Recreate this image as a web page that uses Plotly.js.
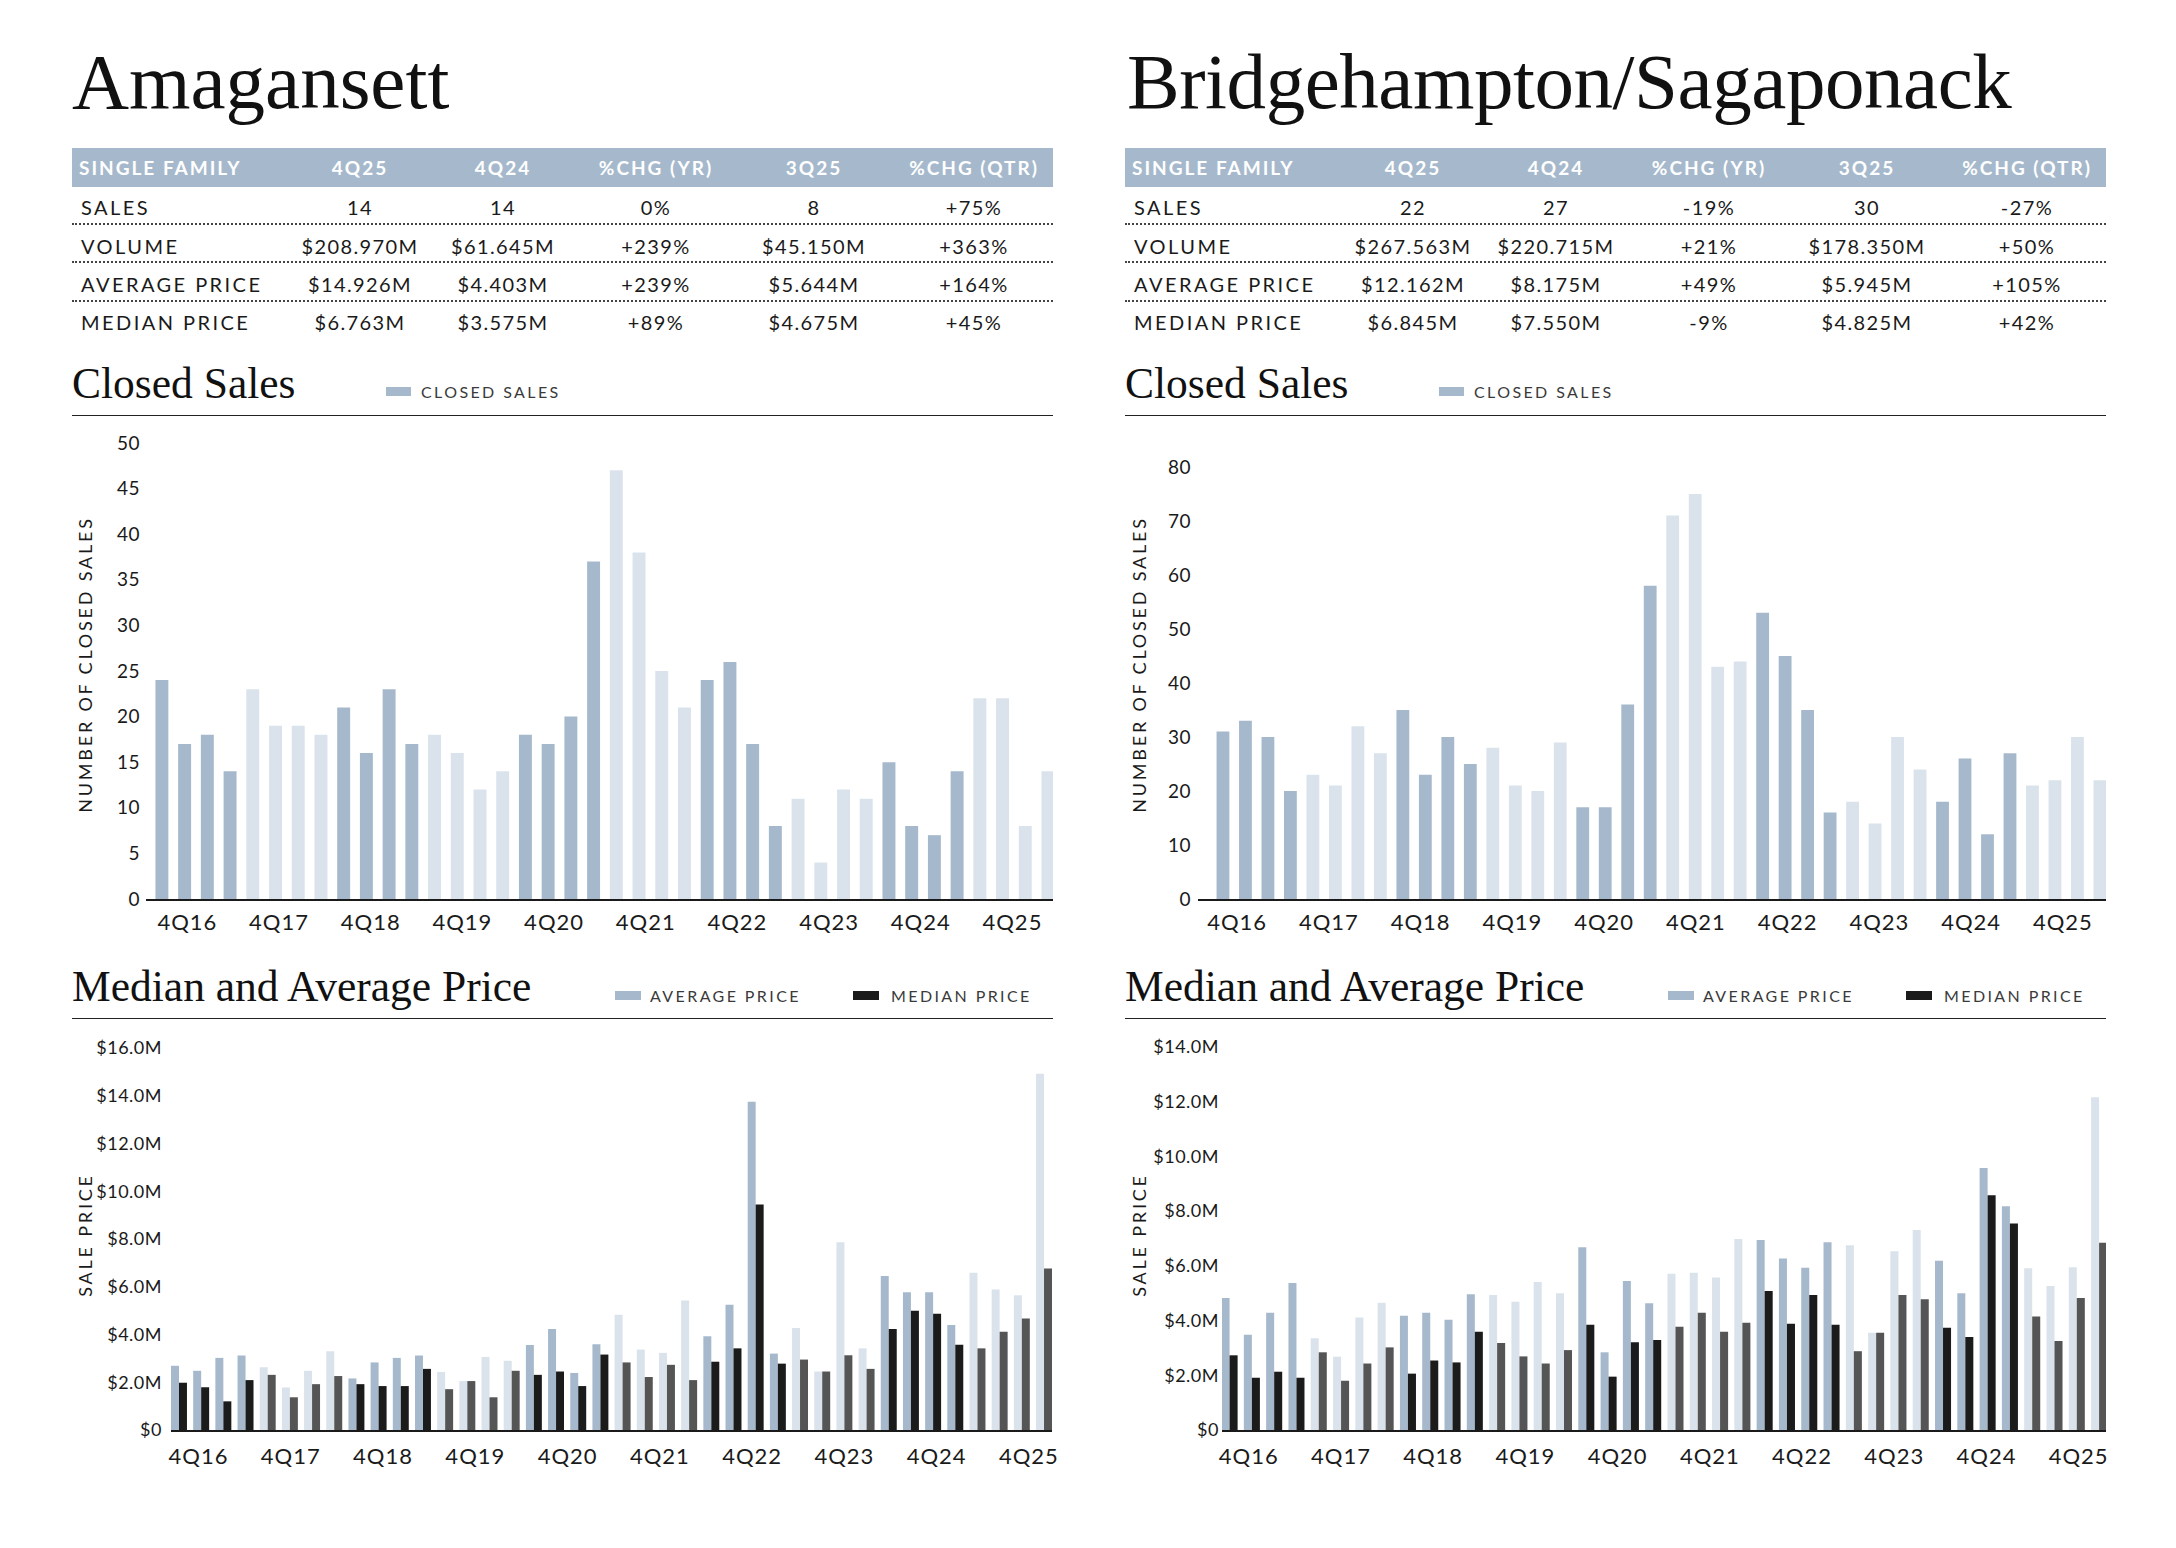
<!DOCTYPE html>
<html>
<head>
<meta charset="utf-8">
<script src="https://cdn.plot.ly/plotly-3.0.1.min.js"></script>
<style>
html,body{margin:0;padding:0;background:#fff;}
#page{position:relative;width:2176px;height:1548px;overflow:hidden;font-family:Lato,'Open Sans',sans-serif;color:#1a1a1a;}
.abs{position:absolute;white-space:nowrap;}
.title{font-family:'Liberation Serif','DejaVu Serif',serif;font-size:79px;line-height:79px;color:#111;}
.sub{font-family:'Liberation Serif','DejaVu Serif',serif;font-size:43.5px;line-height:43.5px;color:#111;}
.band{background:#a6b9cc;}
.hdr{color:#fff;font-weight:700;font-size:19px;line-height:19px;letter-spacing:2px;}
.lbl{font-size:20px;line-height:20px;letter-spacing:2.45px;}
.val{font-size:20px;line-height:20px;letter-spacing:1.4px;}
.dots{height:0;border-top:2px dotted #444;}
.rule{height:0;border-top:1.5px solid #222;}
.leg{font-size:16px;line-height:16px;letter-spacing:2.4px;color:#3a3a3a;}
.chart{position:absolute;}
.chart .xtick text{letter-spacing:1px;}
.chart .ytick text{letter-spacing:0.5px;}
.chart .g-ytitle text{letter-spacing:2.8px;}
#priceL .g-ytitle{transform:translateX(-1px);}
</style>
</head>
<body>
<div id="page"></div>
<script>
// ---------------- DATA ----------------
const quarters = ['1Q16','2Q16','3Q16','4Q16','1Q17','2Q17','3Q17','4Q17','1Q18','2Q18','3Q18','4Q18',
  '1Q19','2Q19','3Q19','4Q19','1Q20','2Q20','3Q20','4Q20','1Q21','2Q21','3Q21','4Q21',
  '1Q22','2Q22','3Q22','4Q22','1Q23','2Q23','3Q23','4Q23','1Q24','2Q24','3Q24','4Q24',
  '1Q25','2Q25','3Q25','4Q25'];
const xTickText = ['4Q16','4Q17','4Q18','4Q19','4Q20','4Q21','4Q22','4Q23','4Q24','4Q25'];

const tableHeaders = ['SINGLE FAMILY','4Q25','4Q24','%CHG (YR)','3Q25','%CHG (QTR)'];
const rowLabels = ['SALES','VOLUME','AVERAGE PRICE','MEDIAN PRICE'];

// Amagansett
const amaTitle = 'Amagansett';
const ama4Q25 = ['14','$208.970M','$14.926M','$6.763M'];
const ama4Q24 = ['14','$61.645M','$4.403M','$3.575M'];
const amaChgYr = ['0%','+239%','+239%','+89%'];
const ama3Q25 = ['8','$45.150M','$5.644M','$4.675M'];
const amaChgQtr = ['+75%','+363%','+164%','+45%'];
const amaSales = [24,17,18,14,23,19,19,18,21,16,23,17,18,16,12,14,18,17,20,37,47,38,25,21,24,26,17,8,11,4,12,11,15,8,7,14,22,22,8,14];
const amaAvg = [2.69,2.48,3.02,3.12,2.63,1.78,2.48,3.30,2.16,2.83,3.02,3.12,2.43,2.05,3.06,2.90,3.56,4.23,2.39,3.59,
  4.83,3.37,3.23,5.42,3.93,5.25,13.75,3.20,4.27,2.45,7.86,3.42,6.45,5.77,5.77,4.403,6.59,5.89,5.644,14.926];
const amaMed = [1.98,1.79,1.20,2.09,2.31,1.37,1.92,2.26,1.92,1.84,1.84,2.56,1.71,2.05,1.37,2.48,2.31,2.45,1.84,3.16,
  2.83,2.22,2.73,2.09,2.86,3.42,9.44,2.78,2.95,2.45,3.13,2.56,4.23,5.00,4.87,3.575,3.42,4.11,4.675,6.763];

// Bridgehampton/Sagaponack
const briTitle = 'Bridgehampton/Sagaponack';
const bri4Q25 = ['22','$267.563M','$12.162M','$6.845M'];
const bri4Q24 = ['27','$220.715M','$8.175M','$7.550M'];
const briChgYr = ['-19%','+21%','+49%','-9%'];
const bri3Q25 = ['30','$178.350M','$5.945M','$4.825M'];
const briChgQtr = ['-27%','+50%','+105%','+42%'];
const briSales = [31,33,30,20,23,21,32,27,35,23,30,25,28,21,20,29,17,17,36,58,71,75,43,44,53,45,35,16,18,14,30,24,18,26,12,27,21,22,30,22];
const briAvg = [4.82,3.48,4.29,5.37,3.35,2.68,4.11,4.65,4.18,4.29,4.03,4.96,4.93,4.69,5.41,5.00,6.68,2.84,5.45,4.63,
  5.71,5.75,5.57,6.98,6.94,6.27,5.93,6.86,6.75,3.55,6.53,7.31,6.19,5.00,9.58,8.175,5.91,5.26,5.945,12.162];
const briMed = [2.73,1.91,2.13,1.91,2.84,1.80,2.43,3.02,2.06,2.54,2.47,3.59,3.18,2.69,2.43,2.92,3.85,1.95,3.21,3.29,
  3.77,4.29,3.59,3.92,5.08,3.88,4.93,3.85,2.88,3.55,4.93,4.78,3.74,3.40,8.58,7.550,4.15,3.25,4.825,6.845];

const salesTicksL = [0,5,10,15,20,25,30,35,40,45,50];
const salesTicksR = [0,10,20,30,40,50,60,70,80];
const priceTicksL = [0,2,4,6,8,10,12,14,16];
const priceTicksR = [0,2,4,6,8,10,12,14];

// ---------------- STYLE ----------------
const MED = '#a6b9cc', LIGHT = '#dae3eb', BLACK = '#1b1b1b', GRAY = '#555555';
const evenYear = q => parseInt(q.slice(2), 10) % 2 === 0;
const idx = quarters.map((q, i) => i);
const avgColors = quarters.map(q => evenYear(q) ? MED : LIGHT);
const medColors = quarters.map(q => evenYear(q) ? BLACK : GRAY);

const page = document.getElementById('page');
function mk(cls, text, st) {
  const d = document.createElement('div');
  d.className = 'abs ' + cls;
  if (text != null) d.textContent = text;
  Object.assign(d.style, st);
  page.appendChild(d);
  return d;
}

// panel layout (pixels)
const BAND_L = 72, BAND_W = 981;
const COL_X = [288, 431, 584, 742, 902];
const ROW_Y = [208, 247, 285, 323];
const DOT_Y = [224, 262, 301];

const panels = [
  {o: 0, titleX: 72, titleLS: '0px', title: amaTitle, cols: [ama4Q25, ama4Q24, amaChgYr, ama3Q25, amaChgQtr]},
  {o: 1053, titleX: 1127, titleLS: '-0.45px', title: briTitle, cols: [bri4Q25, bri4Q24, briChgYr, bri3Q25, briChgQtr]}
];

panels.forEach(p => {
  const o = p.o;
  mk('title', p.title, {left: p.titleX + 'px', top: (108 - 66) + 'px', letterSpacing: p.titleLS});
  mk('band', null, {left: (BAND_L + o) + 'px', top: '148px', width: BAND_W + 'px', height: '39px'});
  mk('hdr', tableHeaders[0], {left: (79 + o) + 'px', top: (167.5 - 10) + 'px'});
  tableHeaders.slice(1).forEach((h, c) => {
    mk('hdr', h, {left: (BAND_L + o + COL_X[c]) + 'px', top: (167.5 - 10) + 'px', transform: 'translateX(-50%)'});
  });
  rowLabels.forEach((r, i) => {
    mk('lbl', r, {left: (81 + o) + 'px', top: (ROW_Y[i] - 10.6) + 'px'});
    p.cols.forEach((col, c) => {
      mk('val', col[i], {left: (BAND_L + o + COL_X[c]) + 'px', top: (ROW_Y[i] - 10.6) + 'px', transform: 'translateX(-50%)'});
    });
  });
  DOT_Y.forEach(y => mk('dots', null, {left: (BAND_L + o) + 'px', top: (y - 1) + 'px', width: BAND_W + 'px'}));

  // Closed sales header
  mk('sub', 'Closed Sales', {left: (72 + o) + 'px', top: (398 - 36.4) + 'px'});
  mk('', null, {left: (386 + o) + 'px', top: '387px', width: '25px', height: '9px', background: MED});
  mk('leg', 'CLOSED SALES', {left: (421 + o) + 'px', top: (392 - 8.5) + 'px'});
  mk('rule', null, {left: (BAND_L + o) + 'px', top: '415px', width: BAND_W + 'px'});

  // Price header
  mk('sub', 'Median and Average Price', {left: (72 + o) + 'px', top: (1001 - 36.4) + 'px'});
  mk('', null, {left: (615 + o) + 'px', top: '991px', width: '26px', height: '9px', background: MED});
  mk('leg', 'AVERAGE PRICE', {left: (650 + o) + 'px', top: (996 - 8.5) + 'px'});
  mk('', null, {left: (853 + o) + 'px', top: '991px', width: '26px', height: '9px', background: BLACK});
  mk('leg', 'MEDIAN PRICE', {left: (891 + o) + 'px', top: (996 - 8.5) + 'px'});
  mk('rule', null, {left: (BAND_L + o) + 'px', top: '1018px', width: BAND_W + 'px'});
});

// ---------------- CHARTS ----------------
function chart(cfg) {
  const d = document.createElement('div');
  d.className = 'chart';
  d.id = cfg.id;
  Object.assign(d.style, {left: cfg.box[0] + 'px', top: cfg.box[1] + 'px', width: cfg.box[2] + 'px', height: cfg.box[3] + 'px'});
  page.appendChild(d);
  const [bl, bt, bw, bh] = cfg.box;
  const [pl, pr, pt, pb] = cfg.plot;
  const tickvals = xTickText.map((t, k) => cfg.tick0 + cfg.tickStep * k);
  const layout = {
    width: bw, height: bh,
    margin: {l: pl - bl, r: bl + bw - pr, t: pt - bt, b: bt + bh - pb, pad: 0},
    paper_bgcolor: 'rgba(0,0,0,0)', plot_bgcolor: 'rgba(0,0,0,0)',
    showlegend: false,
    barmode: 'group', bargap: cfg.bargap, bargroupgap: 0,
    font: {family: 'Lato, "Open Sans", sans-serif', color: '#1a1a1a'},
    xaxis: {
      range: cfg.xr, tickmode: 'array', tickvals: tickvals, ticktext: xTickText,
      showline: true, linecolor: '#1a1a1a', linewidth: 1.5, showgrid: false, zeroline: false,
      ticks: '', tickfont: {size: 22, color: '#1a1a1a'}, ticklabelstandoff: cfg.xStand, fixedrange: true
    },
    yaxis: {
      range: cfg.yr, tickmode: 'array', tickvals: cfg.yt, ticktext: cfg.ytt,
      showline: false, showgrid: false, zeroline: false, ticks: '',
      tickfont: {size: cfg.yFont, color: '#1a1a1a'}, ticklabelstandoff: cfg.yStand, fixedrange: true,
      automargin: false,
      title: {text: cfg.ytitle, font: {size: 18, color: '#1a1a1a'}, standoff: cfg.titleStand}
    }
  };
  Plotly.newPlot(d, cfg.traces, layout, {displayModeBar: false, staticPlot: true});
}

const fmtPrice = v => v === 0 ? '$0' : '$' + v.toFixed(1) + 'M';

// Left closed sales
chart({
  id: 'salesL', box: [0, 400, 1088, 560], plot: [146, 1053, 430, 899],
  xr: [-0.70, 39.22], yr: [0, 469 / 9.12], yt: salesTicksL, ytt: salesTicksL.map(String), yFont: 19,
  tick0: 1.12, tickStep: 4.035, bargap: 0.43, xStand: 3, yStand: 5,
  ytitle: 'NUMBER OF CLOSED SALES', titleStand: 20,
  traces: [{type: 'bar', x: idx, y: amaSales, hovertext: quarters, name: 'CLOSED SALES', marker: {color: avgColors}}]
});
// Right closed sales
chart({
  id: 'salesR', box: [1053, 400, 1088, 560], plot: [1198, 2106, 430, 899],
  xr: [-1.11, 39.27], yr: [0, 469 / 5.4], yt: salesTicksR, ytt: salesTicksR.map(String), yFont: 19,
  tick0: 0.63, tickStep: 4.08, bargap: 0.43, xStand: 3, yStand: 6,
  ytitle: 'NUMBER OF CLOSED SALES', titleStand: 17,
  traces: [{type: 'bar', x: idx, y: briSales, hovertext: quarters, name: 'CLOSED SALES', marker: {color: avgColors}}]
});
// Left price
chart({
  id: 'priceL', box: [0, 1030, 1088, 518], plot: [171, 1052, 1040, 1430],
  xr: [-0.36, 39.36], yr: [0, 390 / 23.875], yt: priceTicksL, ytt: priceTicksL.map(fmtPrice), yFont: 18,
  tick0: 0.88, tickStep: 4.16, bargap: 0.28, xStand: 6, yStand: 8,
  ytitle: 'SALE PRICE', titleStand: 0,
  traces: [
    {type: 'bar', x: idx, y: amaAvg, hovertext: quarters, name: 'AVERAGE PRICE', marker: {color: avgColors}},
    {type: 'bar', x: idx, y: amaMed, hovertext: quarters, name: 'MEDIAN PRICE', marker: {color: medColors}}
  ]
});
// Right price
chart({
  id: 'priceR', box: [1053, 1030, 1088, 518], plot: [1222, 2106, 1040, 1430],
  xr: [-0.34, 39.31], yr: [0, 390 / 27.36], yt: priceTicksR, ytt: priceTicksR.map(fmtPrice), yFont: 18,
  tick0: 0.86, tickStep: 4.136, bargap: 0.28, xStand: 6, yStand: 2,
  ytitle: 'SALE PRICE', titleStand: 4,
  traces: [
    {type: 'bar', x: idx, y: briAvg, hovertext: quarters, name: 'AVERAGE PRICE', marker: {color: avgColors}},
    {type: 'bar', x: idx, y: briMed, hovertext: quarters, name: 'MEDIAN PRICE', marker: {color: medColors}}
  ]
});
</script>
</body>
</html>
